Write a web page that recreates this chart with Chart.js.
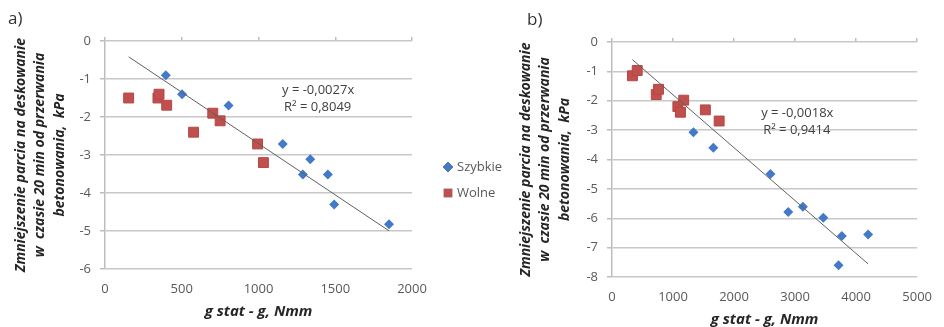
<!DOCTYPE html>
<html>
<head>
<meta charset="utf-8">
<script src="https://cdn.jsdelivr.net/npm/chart.js@4.4.0/dist/chart.umd.min.js"></script>
<style>
  body{margin:0;background:#fff;width:944px;height:327px;overflow:hidden;position:relative;font-family:'Open Sans',sans-serif}
  .box{position:absolute;top:0}
  #wa{left:0;width:505px;height:327px}
  #wb{left:505px;width:439px;height:335px}
  .lbl{position:absolute;font-size:17px;color:#333}
</style>
</head>
<body>
<div class="box" id="wa"><canvas id="ca"></canvas></div>
<div class="box" id="wb"><canvas id="cb"></canvas></div>
<div class="lbl" style="left:8px;top:6px">a)</div>
<div class="lbl" style="left:527px;top:7px">b)</div>
<script>
// chart a)
var fastA_x = [396, 502, 805, 1158, 1289, 1337, 1452, 1493, 1850];
var fastA_y = [-0.9, -1.4, -1.7, -2.71, -3.51, -3.11, -3.51, -4.3, -4.82];
var slowA_x = [154, 345, 352, 402, 577, 702, 750, 994, 1032];
var slowA_y = [-1.5, -1.5, -1.4, -1.69, -2.4, -1.9, -2.1, -2.71, -3.2];
var slopeA = -0.0027;
var eqA = ['y = -0,0027x', 'R\u00b2 = 0,8049'];

// chart b)
var fastB_x = [1334, 1660, 2596, 2888, 3128, 3463, 3713, 3766, 4197];
var fastB_y = [-3.07, -3.6, -4.49, -5.79, -5.61, -5.98, -7.6, -6.6, -6.55];
var slowB_x = [335, 413, 725, 762, 1079, 1122, 1175, 1530, 1756];
var slowB_y = [-1.15, -0.97, -1.79, -1.61, -2.2, -2.39, -1.98, -2.31, -2.69];
var slopeB = -0.0018;
var eqB = ['y = -0,0018x', 'R\u00b2 = 0,9414'];

var seriesNames = ['Szybkie', 'Wolne'];
var xTitle = 'g stat - g, Nmm';
var yTitle = ['Zmniejszenie parcia na deskowanie', 'w  czasie 20 min od przerwania', 'betonowania,  kPa'];

var BLUE = '#4279C8', RED = '#C0504D', TXT = '#595959';

function pts(xs, ys){
  return xs.map(function(x, i){ return {x: x, y: ys[i]}; });
}
function trend(xsList, slope){
  var all = [].concat.apply([], xsList);
  var lo = Math.min.apply(null, all), hi = Math.max.apply(null, all);
  return [{x: lo, y: slope*lo}, {x: hi, y: slope*hi}];
}

// equation text near the trend line
var eqPlugin = {
  id: 'eq',
  afterDatasetsDraw: function(chart, args, o){
    var ctx = chart.ctx;
    var px = chart.scales.x.getPixelForValue(o.at[0]);
    var py = chart.scales.y.getPixelForValue(o.at[1]);
    ctx.save();
    ctx.fillStyle = '#404040';
    ctx.font = '13px "Open Sans"';
    ctx.textBaseline = 'middle';
    ctx.fillText(o.lines[0], px, py);
    ctx.fillText(o.lines[1], px + 2, py + 17);
    ctx.restore();
  }
};

// legend on the right of chart a
var legendPlugin = {
  id: 'sideLegend',
  afterDraw: function(chart, args, o){
    if(!o.show) return;
    var ctx = chart.ctx, a = chart.chartArea;
    var x = a.right + 36, y = a.top + 126;
    ctx.save();
    Chart.helpers.drawPoint(ctx, {pointStyle: 'rectRot', radius: 5, borderWidth: 0}, x, y);
    ctx.fillStyle = BLUE; ctx.fill();
    Chart.helpers.drawPoint(ctx, {pointStyle: 'rect', radius: 6, borderWidth: 0}, x, y + 26);
    ctx.fillStyle = RED; ctx.fill();
    ctx.fillStyle = TXT;
    ctx.font = '13px "Open Sans"';
    ctx.textBaseline = 'middle';
    ctx.fillText(seriesNames[0], x + 9, y);
    ctx.fillText(seriesNames[1], x + 9, y + 26);
    ctx.restore();
  }
};

function makeChart(id, fast, slow, line, xMax, xStep, yMin, pad, yW, xH, eqAt, eqLines, showLegend){
  return new Chart(document.getElementById(id), {
    type: 'scatter',
    data: {
      datasets: [
        {label: seriesNames[0], data: fast, pointStyle: 'rectRot', pointRadius: 5, backgroundColor: BLUE, borderColor: BLUE, borderWidth: 0, order: 2},
        {label: seriesNames[1], data: slow, pointStyle: 'rect', pointRadius: 7, backgroundColor: RED, borderColor: '#B54744', borderWidth: 1, order: 3},
        {label: 'trend', data: line, type: 'line', showLine: true, borderColor: '#606060', borderWidth: 1, pointRadius: 0, fill: false, order: 1}
      ]
    },
    options: {
      responsive: true,
      maintainAspectRatio: false,
      animation: false,
      layout: {padding: pad},
      plugins: {
        legend: {display: false},
        tooltip: {enabled: false},
        eq: {at: eqAt, lines: eqLines},
        sideLegend: {show: showLegend}
      },
      scales: {
        x: {
          type: 'linear', min: 0, max: xMax,
          ticks: {stepSize: xStep, color: TXT, font: {family: 'Open Sans', size: 13}, padding: 12,
            callback: function(v){ return String(v); }},
          grid: {display: false, drawTicks: false},
          border: {display: false},
          title: {display: true, text: xTitle, color: '#262626', font: {family: 'Open Sans', size: 15, weight: 'bold', style: 'italic'}, padding: {top: 0, bottom: 6}},
          afterFit: function(s){ s.height = xH; }
        },
        xTop: {
          type: 'linear', position: 'top', min: 0, max: xMax,
          ticks: {stepSize: xStep, display: false},
          grid: {drawOnChartArea: false, tickLength: 4, color: '#bdbdbd', lineWidth: 1.5},
          border: {display: false},
          afterFit: function(s){ s.height = 0; }
        },
        y: {
          type: 'linear', min: yMin, max: 0,
          ticks: {stepSize: 1, color: TXT, font: {family: 'Open Sans', size: 13}, padding: 9},
          grid: {color: '#c8c8c8', lineWidth: 1.5, tickLength: 5, tickColor: '#bdbdbd'},
          border: {display: true, color: '#bdbdbd', width: 1.5},
          title: {display: true, text: yTitle, color: '#262626', font: {family: 'Open Sans', size: 14, weight: 'bold', style: 'italic', lineHeight: 1.4}, padding: {top: 11, bottom: 0}},
          afterFit: function(s){ s.width = yW; }
        }
      }
    },
    plugins: [eqPlugin, legendPlugin]
  });
}

makeChart('ca', pts(fastA_x, fastA_y), pts(slowA_x, slowA_y), trend([fastA_x, slowA_x], slopeA),
  2000, 500, -6, {top: 41, right: 93, left: 0, bottom: 0}, 105, 58, [1153, -1.29], eqA, true);
makeChart('cb', pts(fastB_x, fastB_y), pts(slowB_x, slowB_y), trend([fastB_x, slowB_x], slopeB),
  5000, 1000, -8, {top: 42, right: 17, left: 0, bottom: 0}, 107, 58, [2444, -2.42], eqB, false);
</script>
</body>
</html>
